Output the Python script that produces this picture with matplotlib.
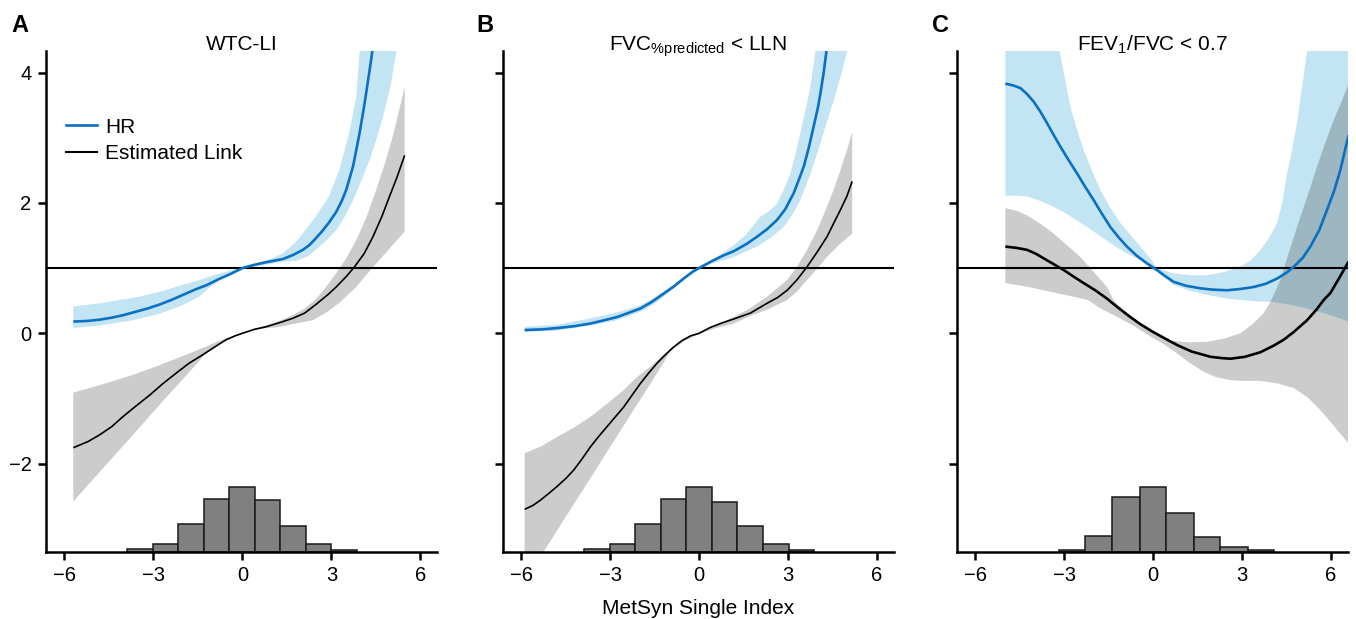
import matplotlib
matplotlib.use("Agg")
import matplotlib.pyplot as plt
from matplotlib.lines import Line2D
import numpy as np

plt.rcParams['font.family'] = ['Liberation Sans', 'DejaVu Sans']
plt.rcParams['mathtext.default'] = 'regular'
plt.rcParams['axes.unicode_minus'] = True

# ---------------- Panel A : WTC-LI ----------------
A_link_x = [-5.70, -5.20, -4.82, -4.40, -4.03, -3.60, -3.13, -2.70, -2.23, -1.80, -1.34, -0.90, -0.55, -0.25, 0.00,
            0.40, 0.80, 1.30, 1.70, 2.10, 2.50, 2.90, 3.16, 3.50, 3.78, 4.10, 4.40, 4.70, 4.96, 5.20, 5.47]
A_link_y = [-1.755, -1.66, -1.56, -1.43, -1.28, -1.12, -0.95, -0.78, -0.61, -0.46, -0.33, -0.20, -0.10, -0.04, 0.00,
            0.06, 0.10, 0.17, 0.23, 0.31, 0.45, 0.60, 0.71, 0.87, 1.02, 1.22, 1.48, 1.79, 2.10, 2.38, 2.73]
A_link_up_x = [-5.70, -4.70, -3.70, -2.80, -1.90, -1.20, -0.55, 0.00, 0.40, 0.80, 1.30, 1.70, 2.10, 2.49, 2.80,
               3.16, 3.50, 3.84, 4.20, 4.51, 4.80, 5.07, 5.30, 5.47]
A_link_up_y = [-0.91, -0.78, -0.64, -0.49, -0.33, -0.20, -0.07, 0.00, 0.07, 0.12, 0.20, 0.28, 0.38, 0.53, 0.70,
               0.92, 1.15, 1.43, 1.80, 2.20, 2.60, 3.02, 3.45, 3.78]
A_link_lo_x = [-5.70, -4.70, -3.69, -2.70, -1.90, -1.23, -0.60, 0.00, 0.40, 0.80, 1.13, 1.70, 2.37, 2.80, 3.25,
               3.84, 4.15, 4.51, 5.00, 5.47]
A_link_lo_y = [-2.58, -2.07, -1.56, -1.05, -0.65, -0.31, -0.12, 0.00, 0.05, 0.08, 0.09, 0.14, 0.20, 0.31, 0.46,
               0.71, 0.88, 1.07, 1.32, 1.56]
A_hr_x = [-5.70, -5.20, -4.80, -4.40, -4.00, -3.60, -3.20, -2.80, -2.40, -2.00, -1.60, -1.20, -0.80, -0.40, 0.00,
          0.40, 0.80, 1.37, 1.70, 2.04, 2.25, 2.40, 2.66, 2.92, 3.16, 3.35, 3.50, 3.73, 3.95, 4.12, 4.29, 4.45]
A_hr_y = [0.18, 0.19, 0.21, 0.24, 0.28, 0.33, 0.38, 0.44, 0.51, 0.59, 0.67, 0.74, 0.83, 0.91, 1.00,
          1.05, 1.09, 1.14, 1.20, 1.28, 1.35, 1.42, 1.55, 1.70, 1.86, 2.03, 2.20, 2.56, 3.07, 3.53, 4.04, 4.55]
A_hr_up_x = [-5.70, -4.80, -3.49, -2.60, -2.12, -1.50, -0.99, -0.50, 0.00, 0.50, 1.00, 1.37, 1.80, 2.10, 2.47,
             2.92, 3.26, 3.60, 3.84, 3.95, 4.05]
A_hr_up_y = [0.41, 0.46, 0.56, 0.66, 0.73, 0.81, 0.89, 0.95, 1.01, 1.08, 1.15, 1.23, 1.40, 1.57, 1.79,
             2.10, 2.50, 3.07, 3.63, 4.32, 4.70]
A_hr_lo_x = [-5.70, -4.80, -3.69, -2.80, -2.12, -1.50, -1.00, -0.50, 0.00, 0.50, 0.90, 1.37, 1.80, 2.20, 2.47,
             2.80, 3.16, 3.45, 3.73, 4.00, 4.29, 4.50, 4.74, 5.00, 5.19, 5.30]
A_hr_lo_y = [0.08, 0.12, 0.20, 0.30, 0.41, 0.55, 0.74, 0.90, 0.99, 1.03, 1.06, 1.10, 1.11, 1.18, 1.28,
             1.41, 1.58, 1.79, 2.04, 2.33, 2.66, 2.95, 3.32, 3.80, 4.32, 4.60]
A_hist_edges = [-3.89, -3.01, -2.17, -1.30, -0.45, 0.41, 1.28, 2.13, 2.99, 3.86]
A_hist_counts = [2.4, 7.4, 27.4, 52.7, 64.4, 51.7, 25.7, 7.4, 1.7]

# ---------------- Panel B : FVC %pred < LLN ----------------
B_link_x = [-5.88, -5.60, -5.35, -5.05, -4.79, -4.50, -4.23, -3.95, -3.66, -3.38, -3.10, -2.82, -2.54, -2.26,
            -1.98, -1.70, -1.42, -1.14, -0.86, -0.57, -0.29, 0.00, 0.38, 0.72, 1.17, 1.73, 2.29, 2.65, 2.97,
            3.30, 3.64, 4.00, 4.31, 4.55, 4.76, 4.98, 5.16]
B_link_y = [-2.70, -2.64, -2.56, -2.45, -2.35, -2.23, -2.10, -1.93, -1.74, -1.58, -1.43, -1.28, -1.13, -0.95,
            -0.77, -0.61, -0.46, -0.33, -0.21, -0.11, -0.04, 0.00, 0.09, 0.15, 0.22, 0.31, 0.46, 0.55, 0.66,
            0.82, 1.02, 1.26, 1.48, 1.70, 1.89, 2.10, 2.33]
B_link_up_x = [-5.88, -5.30, -4.79, -4.20, -3.66, -3.10, -2.54, -2.09, -1.64, -1.20, -0.97, -0.50, -0.20, 0.00,
               0.50, 1.17, 1.70, 2.29, 2.97, 3.30, 3.64, 4.00, 4.31, 4.55, 4.76, 4.98, 5.16]
B_link_up_y = [-1.84, -1.73, -1.59, -1.44, -1.28, -1.08, -0.87, -0.67, -0.51, -0.33, -0.24, -0.08, -0.02, 0.01,
               0.12, 0.25, 0.38, 0.56, 0.82, 1.02, 1.28, 1.60, 1.94, 2.22, 2.50, 2.80, 3.09]
B_link_lo_x = [-5.88, -5.24, -4.50, -3.66, -2.80, -2.00, -1.40, -0.97, -0.50, 0.00, 0.50, 1.17, 1.70, 2.29,
               2.97, 3.30, 3.64, 4.00, 4.31, 4.70, 5.16]
B_link_lo_y = [-3.81, -3.35, -2.82, -2.22, -1.60, -1.03, -0.60, -0.28, -0.12, -0.01, 0.07, 0.15, 0.26, 0.36,
               0.51, 0.64, 0.82, 1.00, 1.17, 1.35, 1.53]
B_hr_x = [-5.88, -5.30, -4.79, -4.20, -3.66, -3.20, -2.76, -2.40, -1.98, -1.60, -1.19, -0.85, -0.52, -0.20,
          0.04, 0.40, 0.80, 1.17, 1.60, 1.95, 2.30, 2.63, 2.90, 3.19, 3.40, 3.53, 3.70, 3.86, 4.00, 4.09, 4.20,
          4.29, 4.40]
B_hr_y = [0.05, 0.06, 0.08, 0.11, 0.15, 0.20, 0.25, 0.31, 0.38, 0.48, 0.61, 0.72, 0.84, 0.95,
          1.01, 1.10, 1.19, 1.26, 1.37, 1.48, 1.60, 1.74, 1.90, 2.15, 2.40, 2.56, 2.85, 3.17, 3.45, 3.68, 4.00,
          4.32, 4.60]
B_hr_up_x = [-5.88, -4.80, -3.66, -2.76, -1.98, -1.50, -1.00, -0.50, 0.00, 0.50, 1.17, 1.60, 2.07, 2.35,
             2.63, 2.85, 3.08, 3.25, 3.41, 3.60, 3.75, 3.92, 4.00]
B_hr_up_y = [0.10, 0.13, 0.23, 0.32, 0.43, 0.55, 0.70, 0.86, 1.00, 1.14, 1.35, 1.52, 1.79, 1.87,
             1.99, 2.20, 2.45, 2.75, 3.07, 3.45, 3.78, 4.32, 4.60]
B_hr_lo_x = [-5.88, -4.80, -3.66, -2.76, -1.98, -1.50, -1.00, -0.50, 0.00, 0.50, 1.17, 1.95, 2.40, 2.85,
             3.15, 3.41, 3.70, 3.98, 4.25, 4.54, 4.78, 4.99, 5.10]
B_hr_lo_y = [0.02, 0.04, 0.12, 0.20, 0.33, 0.45, 0.63, 0.82, 0.99, 1.08, 1.17, 1.33, 1.46, 1.63,
             1.82, 2.04, 2.38, 2.76, 3.15, 3.58, 3.95, 4.32, 4.55]
B_hist_edges = [-3.87, -3.01, -2.15, -1.29, -0.44, 0.44, 1.29, 2.16, 3.02, 3.86]
B_hist_counts = [2.4, 7.4, 27.4, 52.7, 64.4, 49.7, 25.7, 7.4, 1.7]

# ---------------- Panel C : FEV1/FVC < 0.7 ----------------
C_link_x = [-4.98, -4.60, -4.25, -3.95, -3.69, -3.35, -3.01, -2.68, -2.34, -1.95, -1.55, -1.20, -0.77, -0.43,
            0.00, 0.40, 0.81, 1.30, 1.93, 2.30, 2.61, 3.10, 3.62, 4.06, 4.40, 4.74, 5.19, 5.50, 5.75, 5.98,
            6.25, 6.59]
C_link_y = [1.33, 1.31, 1.28, 1.22, 1.15, 1.06, 0.97, 0.87, 0.77, 0.66, 0.53, 0.40, 0.25, 0.14,
            0.02, -0.08, -0.18, -0.28, -0.36, -0.38, -0.39, -0.36, -0.29, -0.19, -0.10, 0.02, 0.20, 0.36, 0.51,
            0.62, 0.83, 1.10]
C_link_up_x = [-4.98, -4.60, -4.25, -3.80, -3.35, -2.90, -2.45, -2.00, -1.55, -1.34, -1.00, -0.50, 0.00, 0.58,
               1.20, 1.82, 2.40, 2.94, 3.35, 3.73, 4.00, 4.29, 4.55, 4.85, 5.20, 5.53, 5.80, 6.09, 6.35, 6.59]
C_link_up_y = [1.92, 1.88, 1.81, 1.68, 1.53, 1.35, 1.17, 0.94, 0.71, 0.51, 0.36, 0.18, 0.04, -0.11,
               -0.14, -0.13, -0.08, 0.00, 0.14, 0.31, 0.52, 0.82, 1.20, 1.63, 2.10, 2.56, 2.92, 3.27, 3.55, 3.83]
C_link_lo_x = [-4.98, -4.30, -3.69, -3.10, -2.56, -2.20, -1.80, -1.21, -0.60, -0.09, 0.40, 0.81, 1.25, 1.71,
               2.10, 2.61, 3.10, 3.62, 4.20, 4.74, 5.20, 5.64, 5.95, 6.20, 6.59]
C_link_lo_y = [0.77, 0.72, 0.66, 0.60, 0.55, 0.51, 0.39, 0.25, 0.10, -0.05, -0.18, -0.31, -0.46, -0.59,
               -0.67, -0.72, -0.73, -0.73, -0.77, -0.84, -0.98, -1.18, -1.34, -1.48, -1.69]
C_hr_x = [-4.98, -4.70, -4.47, -4.25, -4.02, -3.80, -3.57, -3.35, -3.12, -2.84, -2.56, -2.28, -2.00, -1.72,
          -1.44, -1.16, -0.88, -0.55, -0.20, 0.13, 0.40, 0.69, 1.10, 1.59, 2.00, 2.49, 2.95, 3.39, 3.80, 4.18,
          4.50, 4.74, 5.05, 5.30, 5.60, 5.86, 6.10, 6.31, 6.59]
C_hr_y = [3.83, 3.80, 3.76, 3.67, 3.55, 3.40, 3.22, 3.04, 2.86, 2.65, 2.45, 2.24, 2.04, 1.83,
          1.63, 1.47, 1.33, 1.19, 1.07, 0.97, 0.88, 0.79, 0.73, 0.69, 0.67, 0.66, 0.68, 0.71, 0.76, 0.84,
          0.93, 1.02, 1.16, 1.33, 1.58, 1.89, 2.18, 2.50, 3.04]
C_hr_up_x = [-4.98, -4.20, -3.60, -3.15, -2.79, -2.55, -2.34, -2.05, -1.78, -1.45, -1.10, -0.75, -0.43, -0.10,
             0.13, 0.69, 1.25, 1.82, 2.40, 2.94, 3.30, 3.62, 3.92, 4.18, 4.35, 4.52, 4.70, 4.85, 5.02, 5.19,
             5.40, 6.59]
C_hr_up_y = [6.50, 5.40, 4.80, 4.33, 3.48, 3.10, 2.81, 2.48, 2.20, 1.93, 1.69, 1.50, 1.33, 1.15,
             1.00, 0.92, 0.89, 0.89, 0.94, 1.02, 1.12, 1.28, 1.47, 1.69, 2.00, 2.45, 2.85, 3.22, 3.78, 4.32,
             5.00, 6.00]
C_hr_lo_x = [-4.98, -4.60, -4.25, -3.80, -3.35, -2.80, -2.22, -1.78, -1.33, -0.90, -0.43, -0.10, 0.13, 0.69,
             1.25, 1.82, 2.40, 2.94, 3.50, 4.06, 4.60, 5.19, 5.90, 6.59]
C_hr_lo_y = [2.11, 2.11, 2.10, 2.03, 1.94, 1.80, 1.63, 1.49, 1.35, 1.23, 1.12, 1.02, 0.95, 0.74,
             0.65, 0.59, 0.54, 0.51, 0.49, 0.48, 0.44, 0.38, 0.29, 0.18]
C_hist_edges = [-3.18, -2.28, -1.37, -0.43, 0.44, 1.37, 2.27, 3.19, 4.09]
C_hist_counts = [1.7, 16.0, 55.0, 64.4, 38.4, 15.0, 5.0, 1.7]

titles = ['WTC-LI', r'FVC$_{\%predicted}$ < LLN', r'FEV$_1$/FVC < 0.7']
letters = ['A', 'B', 'C']
y_ticks = [-2, 0, 2, 4]
x_ticks = [-6, -3, 0, 3, 6]
legend_labels = ['HR', 'Estimated Link']

BLUE = '#0a70bf'
BLUE_FILL = '#c3e4f3'
HIST_FACE = '#808080'

panels = [
    dict(link=(A_link_x, A_link_y), lup=(A_link_up_x, A_link_up_y), llo=(A_link_lo_x, A_link_lo_y),
         hr=(A_hr_x, A_hr_y), hup=(A_hr_up_x, A_hr_up_y), hlo=(A_hr_lo_x, A_hr_lo_y),
         edges=A_hist_edges, counts=A_hist_counts, klw=1.2),
    dict(link=(B_link_x, B_link_y), lup=(B_link_up_x, B_link_up_y), llo=(B_link_lo_x, B_link_lo_y),
         hr=(B_hr_x, B_hr_y), hup=(B_hr_up_x, B_hr_up_y), hlo=(B_hr_lo_x, B_hr_lo_y),
         edges=B_hist_edges, counts=B_hist_counts, klw=1.2),
    dict(link=(C_link_x, C_link_y), lup=(C_link_up_x, C_link_up_y), llo=(C_link_lo_x, C_link_lo_y),
         hr=(C_hr_x, C_hr_y), hup=(C_hr_up_x, C_hr_up_y), hlo=(C_hr_lo_x, C_hr_lo_y),
         edges=C_hist_edges, counts=C_hist_counts, klw=1.9),
]

W, H = 1356, 619
fig = plt.figure(figsize=(W / 100, H / 100), dpi=100)
lefts = [46, 502.7, 956.7]
letter_x = [11.7, 476, 931.7]
ax_w = 391
ax_bottom = 551.7
ax_top = 51

for i, p in enumerate(panels):
    ax = fig.add_axes([lefts[i] / W, 1 - ax_bottom / H, ax_w / W, (ax_bottom - ax_top) / H])
    # histogram on a hidden twin axis
    axh = ax.twinx()
    widths = [p['edges'][k + 1] - p['edges'][k] for k in range(len(p['counts']))]
    axh.bar(p['edges'][:-1], p['counts'], width=widths, align='edge', color=HIST_FACE,
            edgecolor='#1a1a1a', linewidth=1.1, zorder=1)
    axh.set_ylim(0, ax_bottom - ax_top)
    axh.set_axis_off()

    # bands: blue then translucent black
    hx = np.array(p['hup'][0] + p['hlo'][0][::-1])
    hy = np.array(p['hup'][1] + p['hlo'][1][::-1])
    ax.fill(hx, hy, color=BLUE_FILL, lw=0, zorder=1)
    lx = np.array(p['lup'][0] + p['llo'][0][::-1])
    ly = np.array(p['lup'][1] + p['llo'][1][::-1])
    ax.fill(lx, ly, color='black', alpha=0.2, lw=0, zorder=2)
    ax.axhline(1, color='black', lw=1.5, zorder=3)
    ax.plot(p['hr'][0], p['hr'][1], color=BLUE, lw=1.9, zorder=4, solid_capstyle='butt')
    ax.plot(p['link'][0], p['link'][1], color='black', lw=p['klw'], zorder=4, solid_capstyle='butt')

    ax.set_xlim(-6.62, 6.56)
    ax.set_ylim(-3.35, 4.33)
    ax.set_xticks(x_ticks)
    ax.set_yticks(y_ticks)
    if i > 0:
        ax.set_yticklabels([])
    for s in ['top', 'right']:
        ax.spines[s].set_visible(False)
    for s in ['left', 'bottom']:
        ax.spines[s].set_linewidth(1.8)
    ax.tick_params(axis='both', length=5.5, width=1.8, labelsize=14.5, color='black')
    ax.tick_params(axis='y', pad=5)
    ax.tick_params(axis='x', pad=5)
    ax.set_zorder(axh.get_zorder() + 1)
    ax.patch.set_visible(False)
    fig.text((lefts[i] + ax_w / 2) / W, 1 - 50.5 / H, titles[i], fontsize=15, ha='center', va='baseline')
    fig.text(letter_x[i] / W, 1 - 32 / H, letters[i], fontsize=17, fontweight='bold', va='baseline')
    if i == 0:
        handles = [Line2D([], [], color=BLUE, lw=1.9), Line2D([], [], color='black', lw=1.5)]
        ax.legend(handles, legend_labels, loc='upper left', bbox_to_anchor=(0.05, 0.867), frameon=False,
                  fontsize=15, handlelength=1.5, handletextpad=0.4, labelspacing=0.35, borderpad=0,
                  borderaxespad=0)
    if i == 1:
        ax.set_xlabel('MetSyn Single Index', fontsize=15, labelpad=10)

fig.savefig('out.png', dpi=100)
